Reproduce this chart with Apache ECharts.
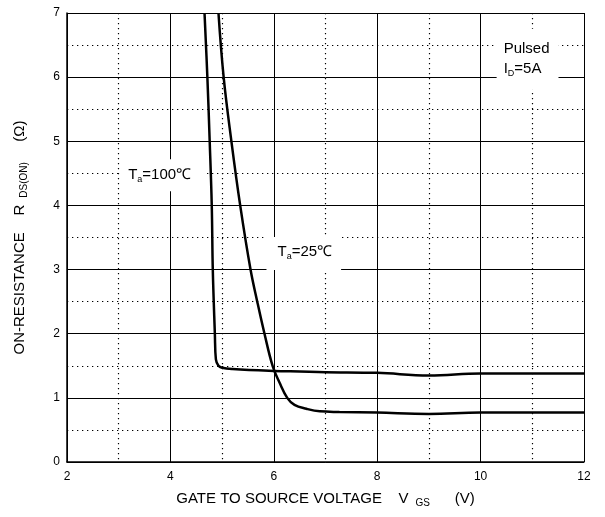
<!DOCTYPE html>
<html>
<head>
<meta charset="utf-8">
<script src="https://cdn.jsdelivr.net/npm/echarts@6/dist/echarts.min.js"></script>
<style>html,body{margin:0;padding:0;background:#fff}#c{width:605px;height:517px}</style>
</head>
<body>
<div id="c"></div>
<script>
// X axis ticks (V_GS, V) and Y axis ticks (R_DS(ON), ohm)
var xTicks = [2, 4, 6, 8, 10, 12];
var yTicks = [0, 1, 2, 3, 4, 5, 6, 7];

// Ta = 100 C curve
var vgs100 = [4.66, 4.715, 4.76, 4.80, 4.82, 4.86, 4.88, 4.93, 5.0, 5.2, 6.0, 6.5, 7, 8, 9, 10, 11, 12];
var r100   = [7.0,  6.0,   5.0,  4.0,  3.0,  2.0,  1.6,  1.5,  1.47, 1.45, 1.42, 1.41, 1.40, 1.39, 1.35, 1.38, 1.38, 1.38];

// Ta = 25 C curve
var vgs25 = [4.93, 5.03, 5.18, 5.35, 5.55, 5.68, 5.82, 5.98, 6.11, 6.26, 6.40, 6.63, 6.89, 7.27, 8, 9, 10, 12];
var r25   = [7.0,  6.0,  5.0,  4.0,  3.0,  2.5,  2.0,  1.49, 1.24, 1.0,  0.89, 0.83, 0.79, 0.78, 0.77, 0.75, 0.77, 0.77];

function pairs(xs, ys) { return xs.map(function (x, i) { return [x, ys[i]]; }); }

var FONT = '"Liberation Sans", Arial, sans-serif';
var richLbl = {
  t: { fontSize: 15, fontFamily: FONT, color: '#000', lineHeight: 20 },
  s: { fontSize: 9, fontFamily: FONT, color: '#000', padding: [9, 0, 0, 0], lineHeight: 20 },
  g: { fontSize: 10, fontFamily: FONT, color: '#000', padding: [9, 8, 0, 7], lineHeight: 20 }
};

var chart = echarts.init(document.getElementById('c'), null, { renderer: 'canvas' });
chart.setOption({
  animation: false,
  backgroundColor: '#fff',
  grid: { left: 67, right: 21, top: 13, bottom: 55, show: false },
  xAxis: {
    type: 'value', min: xTicks[0], max: xTicks[xTicks.length - 1], interval: 2,
    name: '{t|GATE TO SOURCE VOLTAGE    V}{g|GS}{t|    (V)}',
    nameLocation: 'middle', nameGap: 27,
    nameTextStyle: { rich: richLbl },
    axisLine: { show: true, lineStyle: { color: '#000', width: 1.5 } },
    axisTick: { show: false },
    axisLabel: { color: '#000', fontSize: 12, fontFamily: FONT, margin: 9 },
    splitLine: { show: true, lineStyle: { color: '#000', width: 1 } },
    minorTick: { show: false, splitNumber: 2 },
    minorSplitLine: { show: true, lineStyle: { color: '#000', width: 1.2, type: [1.3, 3.7] } }
  },
  yAxis: {
    type: 'value', min: yTicks[0], max: yTicks[yTicks.length - 1], interval: 1,
    name: '{t|ON-RESISTANCE    R}{g|DS(ON)}{t|   (Ω)}',
    nameLocation: 'middle', nameGap: 37, nameRotate: 90,
    nameTextStyle: { rich: richLbl },
    axisLine: { show: true, lineStyle: { color: '#000', width: 1.5 } },
    axisTick: { show: false },
    axisLabel: { color: '#000', fontSize: 12, fontFamily: FONT, margin: 7 },
    splitLine: { show: true, lineStyle: { color: '#000', width: 1 } },
    minorTick: { show: false, splitNumber: 2 },
    minorSplitLine: { show: true, lineStyle: { color: '#000', width: 1.2, type: [1.3, 3.7] } }
  },
  series: [
    {
      name: 'Ta=100', type: 'line', data: pairs(vgs100, r100), showSymbol: false,
      smooth: 0.4, clip: true,
      lineStyle: { color: '#000', width: 2.5 }, z: 5,
      markPoint: {
        symbol: 'rect', symbolSize: 0, silent: true,
        label: { show: true, position: 'inside', backgroundColor: '#fff', rich: richLbl },
        data: [
          { coord: [3.85, 4.47], label: { formatter: '{t|T}{s|a}{t|=100℃}', padding: [6, 14, 6, 8] } },
          { coord: [10.31, 6.28], label: { formatter: '{t|Pulsed}\n{t|I}{s|D}{t|=5A}', padding: [10, 9, 11, 7], align: 'left' } }
        ]
      }
    },
    {
      name: 'Ta=25', type: 'line', data: pairs(vgs25, r25), showSymbol: false,
      smooth: 0.4, clip: true,
      lineStyle: { color: '#000', width: 2.5 }, z: 5,
      markPoint: {
        symbol: 'rect', symbolSize: 0, silent: true,
        label: { show: true, position: 'inside', backgroundColor: '#fff', rich: richLbl },
        data: [
          { coord: [6.58, 3.25], label: { formatter: '{t|T}{s|a}{t|=25℃}', padding: [5, 9, 8, 11] } }
        ]
      }
    }
  ]
});
</script>
</body>
</html>
